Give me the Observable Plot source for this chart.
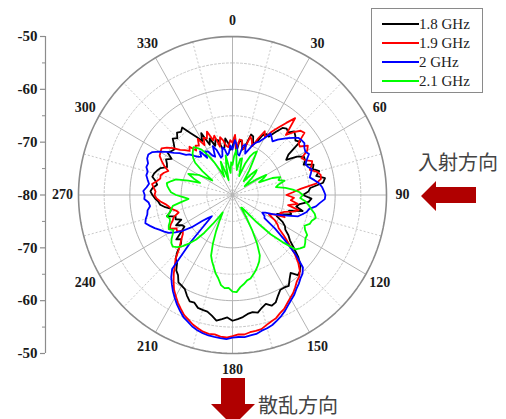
<!DOCTYPE html>
<html><head><meta charset="utf-8">
<script src="https://cdn.jsdelivr.net/npm/d3@7"></script>
<script src="https://cdn.jsdelivr.net/npm/@observablehq/plot@0.6"></script>
<style>
body{margin:0;background:#fff;}
#wrap{position:relative;width:506px;height:419px;overflow:hidden;background:#fff;}
#legend{position:absolute;left:371px;top:8px;width:112px;height:85px;box-sizing:border-box;border:1px solid #8a8a8a;background:#fff;}
.lg{position:absolute;left:0;height:19px;width:112px;}
.lg .sw{position:absolute;left:10px;top:8px;width:37px;height:2px;}
.lg .tx{position:absolute;left:47px;top:0;font:15px "Liberation Serif",serif;color:#222;line-height:19px;white-space:nowrap;}
.jp{position:absolute;font:20px "Noto Sans CJK JP",sans-serif;color:#444;line-height:20px;white-space:nowrap;}
.arrow{position:absolute;background:#b00000;}
</style></head><body><div id="wrap"></div>
<script>
// ---------------- data (dB) ----------------
// values at 0,5,...,355 deg (A) and at 2.5,7.5,...,357.5 deg (B)
const seriesNames = ["1.8 GHz", "1.9 GHz", "2 GHz", "2.1 GHz"];
const seriesColors = ["#000000", "#ff0000", "#0000ff", "#00ff00"];
const s18A = [-70.9,-72.0,-69.5,-70.5,-68.2,-69.0,-66.7,-65.5,-63.6,-63.0,-64.0,-66.7,-65.5,-64.4,-63.2,-62.5,-61.7,-64.8,-66.3,-65.1,-67.4,-68.6,-69.3,-70.5,-68.2,-66.7,-64.4,-61.3,-60.2,-60.6,-59.8,-59.0,-57.7,-57.9,-57.5,-56.8,-56.2,-56.4,-56.8,-57.5,-58.3,-59.0,-60.2,-61.5,-63.2,-64.8,-67.0,-67.8,-68.6,-69.0,-68.2,-67.4,-66.7,-65.5,-64.4,-64.4,-64.8,-64.2,-65.1,-65.9,-66.3,-65.5,-65.1,-64.8,-64.4,-65.7,-68.2,-69.5,-70.1,-69.3,-70.9,-70.1];
const s18B = [-68.8,-69.8,-71.2,-68.0,-69.6,-67.2,-66.9,-64.0,-63.9,-63.4,-63.4,-67.6,-64.3,-65.0,-63.6,-63.3,-62.2,-65.2,-64.6,-66.8,-66.0,-68.0,-70.6,-69.0,-67.8,-65.9,-62.6,-60.5,-61.4,-59.6,-59.8,-58.0,-58.4,-57.2,-57.3,-56.5,-56.8,-56.0,-57.4,-57.6,-58.2,-59.9,-60.4,-62.0,-63.6,-66.4,-66.2,-68.9,-67.6,-68.0,-66.6,-67.8,-65.8,-64.9,-64.0,-65.2,-64.0,-64.6,-66.2,-65.4,-65.0,-65.8,-64.2,-64.0,-63.9,-67.0,-66.8,-68.4,-69.0,-71.0,-69.2,-71.4];
const s19A = [-70.1,-71.4,-69.5,-70.9,-69.0,-68.2,-67.4,-64.4,-61.0,-63.2,-61.7,-64.0,-63.2,-64.4,-63.6,-63.0,-62.5,-66.7,-69.5,-68.6,-69.0,-67.8,-70.1,-71.4,-70.5,-69.0,-65.7,-61.9,-59.8,-58.7,-57.5,-56.2,-55.2,-54.5,-53.9,-53.5,-53.3,-53.1,-53.3,-53.9,-54.9,-56.2,-57.9,-60.0,-62.5,-65.1,-67.0,-68.2,-67.4,-66.7,-67.8,-68.6,-67.4,-65.9,-64.8,-64.6,-65.0,-65.5,-66.7,-64.8,-63.8,-64.4,-66.7,-68.2,-69.0,-68.6,-69.1,-68.2,-69.0,-70.5,-69.5,-70.9];
const s19B = [-68.6,-69.4,-71.0,-68.4,-70.0,-66.4,-65.8,-62.8,-64.6,-62.0,-63.8,-62.6,-64.8,-63.2,-64.2,-62.4,-63.6,-68.2,-68.0,-67.2,-66.8,-69.4,-69.0,-72.0,-69.6,-67.4,-63.6,-60.6,-59.4,-58.0,-56.9,-55.8,-54.9,-54.0,-53.8,-53.6,-53.0,-53.4,-53.5,-54.3,-55.4,-57.0,-58.8,-61.2,-63.6,-66.2,-67.8,-67.2,-66.2,-67.4,-69.0,-67.8,-66.8,-65.2,-65.0,-64.2,-65.6,-66.0,-65.6,-64.0,-63.6,-65.4,-67.4,-67.6,-68.2,-67.4,-67.8,-67.0,-68.2,-68.8,-70.6,-69.6];
const s20A = [-71.4,-70.5,-72.4,-70.1,-70.9,-69.0,-67.6,-66.7,-66.3,-64.8,-63.2,-62.9,-63.6,-64.0,-64.4,-64.2,-63.8,-62.5,-61.9,-62.9,-64.8,-65.9,-68.6,-71.4,-73.3,-72.4,-66.7,-60.6,-59.4,-58.3,-57.1,-55.8,-54.7,-53.9,-53.3,-53.0,-53.0,-52.8,-53.0,-53.5,-54.5,-55.8,-57.5,-59.4,-61.7,-74.3,-72.4,-68.2,-65.7,-64.4,-62.9,-62.5,-63.2,-63.6,-62.9,-63.2,-63.2,-62.9,-62.5,-61.9,-63.6,-66.1,-68.2,-69.5,-70.5,-71.4,-70.5,-72.0,-70.9,-72.4,-71.2,-72.0];
const s20B = [-69.6,-72.2,-70.4,-71.8,-69.8,-68.6,-66.2,-67.2,-65.6,-64.0,-63.0,-63.4,-63.2,-64.6,-63.8,-64.6,-63.0,-62.2,-62.0,-63.6,-65.2,-66.6,-70.2,-72.8,-72.6,-69.6,-63.2,-59.8,-58.8,-57.6,-56.5,-55.2,-54.2,-53.7,-53.2,-53.1,-52.7,-52.9,-53.2,-53.9,-55.0,-56.6,-58.4,-60.4,-68.0,-73.6,-70.0,-66.8,-65.0,-63.6,-62.2,-63.0,-63.8,-62.8,-62.6,-63.6,-62.8,-62.4,-62.0,-62.4,-64.8,-67.0,-68.6,-70.2,-69.6,-70.2,-71.6,-70.0,-72.6,-70.8,-72.4,-70.6];
const s21A = [-74.3,-71.4,-75.2,-72.8,-76.2,-72.0,-70.5,-74.3,-76.6,-73.3,-75.2,-77.1,-72.4,-74.3,-70.1,-69.5,-71.4,-68.2,-66.3,-65.7,-64.4,-63.2,-64.0,-64.4,-63.6,-62.9,-64.0,-69.5,-75.8,-77.1,-72.4,-67.4,-65.7,-64.4,-63.6,-62.5,-61.7,-62.3,-64.0,-65.9,-67.8,-72.4,-76.2,-73.3,-69.0,-66.3,-64.8,-65.5,-66.7,-66.3,-67.0,-67.4,-68.2,-71.4,-69.0,-67.6,-67.0,-68.6,-73.3,-70.5,-72.4,-75.2,-70.5,-69.0,-68.2,-69.5,-72.8,-76.2,-73.3,-77.1,-72.4,-75.8];
const s21B = [-72.6,-74.0,-73.0,-75.0,-73.6,-71.0,-72.8,-75.8,-74.8,-74.0,-76.4,-74.6,-73.2,-71.6,-70.6,-70.8,-69.6,-67.0,-66.8,-65.0,-63.6,-63.8,-64.8,-63.6,-63.2,-63.4,-66.8,-73.0,-77.0,-75.0,-69.6,-66.4,-65.0,-63.8,-63.0,-61.6,-62.4,-62.8,-64.8,-66.8,-70.0,-74.6,-75.0,-71.0,-67.6,-65.4,-65.0,-66.2,-66.0,-66.8,-66.6,-67.8,-70.0,-70.4,-68.0,-67.2,-67.8,-71.0,-71.8,-71.6,-74.0,-72.6,-69.6,-68.6,-68.8,-71.0,-74.6,-74.8,-75.6,-74.4,-74.6,-73.8];
const radialTickValues = [-50, -60, -70, -80, -70, -60, -50];
const angleTickLabels = ["0","30","60","90","120","150","180","210","240","270","300","330"];

// ---------------- geometry helpers (data units: dB above -80) ----------------
const rMin = -80, rMax = -50, span = rMax - rMin;
const kx = 154 / span, ky = 158.5 / span;           // px per dB
const cx = 232, cy = 194.5;                          // centre in px
const W = 506, H = 419, mL = 45;
const xDomain = [(mL - cx) / kx, (W - cx) / kx];
const yDomain = [-(H - cy) / ky, cy / ky];
const rad = d => d * Math.PI / 180;
const px = (deg, rr) => rr * Math.sin(rad(deg));
const py = (deg, rr) => rr * Math.cos(rad(deg));

const allSeries = [[s18A, s18B], [s19A, s19B], [s20A, s20B], [s21A, s21B]];
const curves = allSeries.map(([A, B], si) => {
  const pts = [];
  A.forEach((v, i) => {
    pts.push({series: seriesNames[si], angle: i * 5, db: v});
    pts.push({series: seriesNames[si], angle: i * 5 + 2.5, db: B[i]});
  });
  pts.push({...pts[0], angle: 360});
  return pts.map(p => ({...p, x: px(p.angle, p.db - rMin), y: py(p.angle, p.db - rMin)}));
});

// grid
const circleSteps = d3.range(0, 361, 2);
const circle = rr => circleSteps.map(a => ({x: px(a, rr), y: py(a, rr), rr}));
const solidRings = [10, 20].flatMap(rr => circle(rr));
const dashRings = [5, 15, 25].flatMap(rr => circle(rr));
const outerRing = circle(span);
const majorSpokes = d3.range(0, 360, 30);
const minorSpokes = d3.range(15, 360, 30);
const angleLabelR = 33.1;

// left axis
const axisTicks = [30, 20, 10, 0, -10, -20, -30];
const axisMinor = [25, 15, 5, -5, -15, -25];
const xAxis = xDomain[0];

const chart = Plot.plot({
  width: W, height: H,
  marginLeft: mL, marginRight: 0, marginTop: 0, marginBottom: 0,
  x: {domain: xDomain, range: [mL, W], axis: null},
  y: {domain: yDomain, range: [H, 0], axis: null},
  color: {domain: seriesNames, range: seriesColors},
  style: {background: "transparent"},
  marks: [
    Plot.line(dashRings, {x: "x", y: "y", z: "rr", stroke: "#c8c8c8", strokeWidth: 1, strokeDasharray: "2,2"}),
    Plot.link(minorSpokes, {x1: 0, y1: 0, x2: a => px(a, span), y2: a => py(a, span), stroke: "#c8c8c8", strokeWidth: 1, strokeDasharray: "2,2"}),
    Plot.line(solidRings, {x: "x", y: "y", z: "rr", stroke: "#b4b4b4", strokeWidth: 1}),
    Plot.link(majorSpokes, {x1: 0, y1: 0, x2: a => px(a, span), y2: a => py(a, span), stroke: "#b4b4b4", strokeWidth: 1}),
    Plot.line(outerRing, {x: "x", y: "y", stroke: "#8c8c8c", strokeWidth: 1.6}),
    Plot.text(majorSpokes, {x: a => px(a, angleLabelR), y: a => py(a, angleLabelR), text: (a, i) => angleTickLabels[i],
      fontFamily: "Liberation Serif", fontWeight: "bold", fontSize: 14, fill: "#1a1a1a"}),
    // left radial axis
    Plot.ruleX([xAxis], {y1: -30, y2: 30, stroke: "#8c8c8c", strokeWidth: 1.2}),
    Plot.ruleY(axisTicks, {x1: xAxis - 5 / kx, x2: xAxis, y: d => d, stroke: "#8c8c8c", strokeWidth: 1.2}),
    Plot.ruleY(axisMinor, {x1: xAxis - 3 / kx, x2: xAxis, y: d => d, stroke: "#8c8c8c", strokeWidth: 1}),
    Plot.text(axisTicks, {x: xAxis - 8 / kx, y: d => d, text: (d, i) => String(radialTickValues[i]), textAnchor: "end",
      fontFamily: "Liberation Serif", fontWeight: "bold", fontSize: 15, fill: "#1a1a1a"}),
    // data
    ...curves.map(c => Plot.line(c, {x: "x", y: "y", stroke: "series", strokeWidth: 1.8, strokeLinejoin: "round"}))
  ]
});

const wrap = document.getElementById("wrap");
chart.style.position = "absolute"; chart.style.left = "0"; chart.style.top = "0";
wrap.appendChild(chart);

// legend
const lg = document.createElement("div"); lg.id = "legend";
seriesNames.forEach((n, i) => {
  const row = document.createElement("div"); row.className = "lg"; row.style.top = (6 + i * 19) + "px";
  row.innerHTML = `<div class="sw" style="background:${seriesColors[i]}"></div><div class="tx">${n}</div>`;
  lg.appendChild(row);
});
wrap.appendChild(lg);

// annotations
const t1 = document.createElement("div"); t1.className = "jp"; t1.style.left = "418px"; t1.style.top = "152px"; t1.textContent = "入射方向"; wrap.appendChild(t1);
const t2 = document.createElement("div"); t2.className = "jp"; t2.style.left = "258px"; t2.style.top = "395px"; t2.textContent = "散乱方向"; wrap.appendChild(t2);
const a1 = document.createElement("div"); a1.className = "arrow";
Object.assign(a1.style, {left: "421px", top: "181px", width: "55px", height: "30px", clipPath: "polygon(0 50%, 15px 0, 15px 6px, 100% 6px, 100% 22px, 15px 22px, 15px 100%)"});
wrap.appendChild(a1);
const a2 = document.createElement("div"); a2.className = "arrow";
Object.assign(a2.style, {left: "211px", top: "378px", width: "44px", height: "48px", clipPath: "polygon(10px 0, 34px 0, 34px 26px, 44px 26px, 22px 48px, 0 26px, 10px 26px)"});
wrap.appendChild(a2);
</script></body></html>
